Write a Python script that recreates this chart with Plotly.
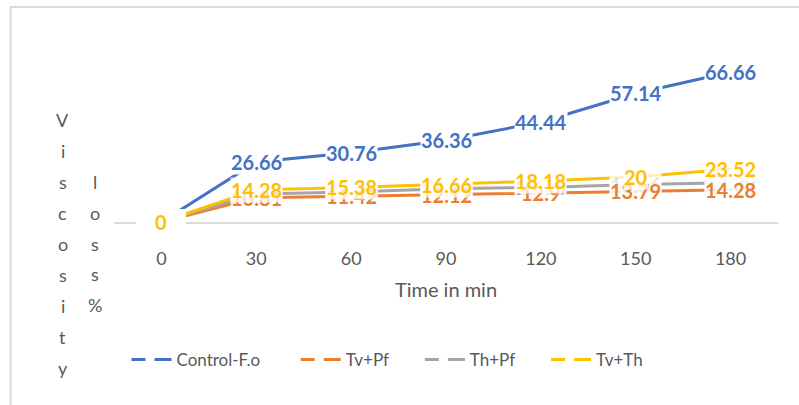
import plotly.graph_objects as go

# Viscosity loss (%) over time for each treatment
time_min = ["0", "30", "60", "90", "120", "150", "180"]
control_fo = [0, 26.66, 30.76, 36.36, 44.44, 57.14, 66.66]
tv_pf = [0, 10.81, 11.42, 12.12, 12.9, 13.79, 14.28]
th_pf = [0, 12.5, 13.33, 14.81, 15.38, 16.66, 17.39]
tv_th = [0, 14.28, 15.38, 16.66, 18.18, 20, 23.52]

series = [
    ("Control-F.o", control_fo, "#4472C4"),
    ("Tv+Pf", tv_pf, "#ED7D31"),
    ("Th+Pf", th_pf, "#A5A5A5"),
    ("Tv+Th", tv_th, "#FFC000"),
]

W, H = 799, 405
ML, MR, MT, MB = 113.5, 20.5, 42, 183
PH = H - MT - MB
PW = W - ML - MR


def px_to_paper_y(py):
    return (H - MB - py) / PH


def px_to_paper_x(px):
    return (px - ML) / PW


fig = go.Figure()

NBSP = "\u00a0"
legend_pad = {"Control-F.o": 7, "Tv+Pf": 6, "Th+Pf": 6, "Tv+Th": 0}

for name, vals, color in series:
    fig.add_trace(go.Scatter(
        x=time_min, y=vals, mode="lines", name=name,
        line=dict(color=color, width=3), showlegend=False,
    ))
    # legend entry with dashed symbol
    fig.add_trace(go.Scatter(
        x=[None], y=[None], mode="lines", name=name + NBSP * legend_pad[name],
        line=dict(color=color, width=3, dash="14px,9px,30px"),
    ))

annotations = []
# data labels; yellow labels are drawn last so they sit on top
label_order = [series[2], series[1], series[0], series[3]]
for name, vals, color in label_order:
    for i, v in enumerate(vals):
        ann = dict(
            x=i, y=v, xref="x", yref="y", text=f"{v:g}",
            showarrow=False,
            bgcolor="white" if (name == "Control-F.o" or v == 0) else "rgba(255,255,255,0.75)",
            font=dict(family="Lato", size=20, color=color, weight="bold"),
            xanchor="center", yanchor="middle", borderpad=0,
        )
        if v == 0:
            ann["width"] = 48
        annotations.append(ann)

# stacked y-axis title letters
col1 = list("Viscosity")
col2 = list("loss%")
for i, ch in enumerate(col1):
    annotations.append(dict(
        x=px_to_paper_x(62), y=px_to_paper_y(120 + i * 31.0), xref="paper", yref="paper",
        text=ch, showarrow=False, xanchor="center", yanchor="middle",
        font=dict(family="Lato", size=18, color="#595959"),
    ))
for i, ch in enumerate(col2):
    annotations.append(dict(
        x=px_to_paper_x(94), y=px_to_paper_y(182 + i * 30.8), xref="paper", yref="paper",
        text=ch, showarrow=False, xanchor="center", yanchor="middle",
        font=dict(family="Lato", size=18, color="#595959"),
    ))

fig.update_layout(
    width=W, height=H,
    margin=dict(l=ML, r=MR, t=MT, b=MB, autoexpand=False),
    paper_bgcolor="white", plot_bgcolor="white",
    font=dict(family="Lato", color="#595959"),
    annotations=annotations,
    showlegend=True,
    legend=dict(
        orientation="h", x=px_to_paper_x(126), xanchor="left",
        y=px_to_paper_y(360), yanchor="middle",
        font=dict(family="Lato", size=17, color="#595959"),
        itemwidth=40, traceorder="normal", bgcolor="rgba(0,0,0,0)",
    ),
    shapes=[dict(
        type="path", xref="paper", yref="paper",
        path=(f"M {px_to_paper_x(10)},{px_to_paper_y(410)} "
              f"L {px_to_paper_x(10)},{px_to_paper_y(7)} "
              f"L {px_to_paper_x(810)},{px_to_paper_y(7)}"),
        line=dict(color="#D9D9D9", width=2),
    )],
)

fig.update_xaxes(
    type="category", range=[-0.5, 6.5],
    showline=True, linecolor="#D9D9D9", linewidth=1.5,
    showgrid=False, zeroline=False,
    ticks="outside", ticklen=20, tickcolor="rgba(0,0,0,0)",
    tickfont=dict(family="Lato", size=18, color="#595959"),
    title=dict(text="Time in min", standoff=15,
               font=dict(family="Lato", size=20, color="#595959")),
)
fig.update_yaxes(
    range=[0, 80], showline=False, showgrid=False, zeroline=False,
    showticklabels=False, ticks="",
)

fig.write_html("out.html")
